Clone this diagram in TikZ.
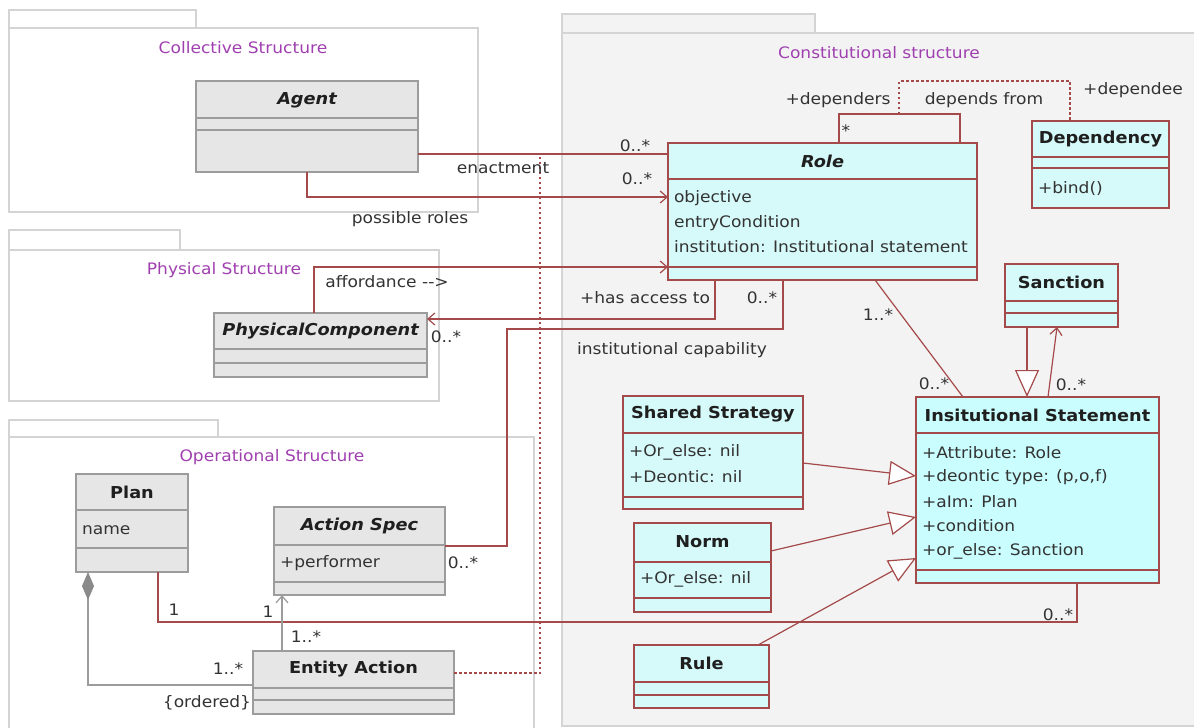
\documentclass[tikz,border=0pt]{standalone}
\usepackage{fontspec}
\setmainfont{DejaVu Sans}[FakeStretch=1.08]
\usetikzlibrary{arrows.meta,calc}
\definecolor{pkgline}{HTML}{D4D4D4}
\definecolor{pkgfill}{HTML}{F3F3F3}
\definecolor{ttl}{HTML}{A040B0}
\definecolor{grayline}{HTML}{9C9C9C}
\definecolor{diafill}{HTML}{8A8A8A}
\definecolor{grayfill}{HTML}{E6E6E6}
\definecolor{redline}{HTML}{A44A4A}
\definecolor{cyanfill}{HTML}{D6F9F9}
\definecolor{cyanfilltwo}{HTML}{CAFDFD}
\definecolor{txt}{HTML}{333333}
\newcommand\compline[3]{\draw[draw=#3, line width=1.3pt] (#1.west |- 0,#2) -- (#1.east |- 0,#2);}
\begin{document}
\begin{tikzpicture}[x=1pt,y=-1pt,
  every node/.style={inner sep=0pt, outer sep=0pt, text=txt, font=\fontsize{15.8}{19}\selectfont},
  pkg/.style={draw=pkgline, line width=1.2pt},
  ptitle/.style={text=ttl},
  gcls/.style={draw=grayline, fill=grayfill, line width=1.3pt, anchor=north west},
  ccls/.style={draw=redline, fill=cyanfill, line width=1.3pt, anchor=north west},
  hdr/.style={font=\fontsize{16.4}{19}\selectfont\bfseries, text=black!88},
  ihdr/.style={font=\fontsize{16.4}{19}\selectfont\bfseries\itshape, text=black!88},
  attr/.style={anchor=west},
  conn/.style={draw=redline, line width=1.2pt},
  gconn/.style={draw=grayline, line width=1.2pt},
  dotconn/.style={draw=redline, line width=1.2pt, dash pattern=on 2.5pt off 2.5pt},
  barb/.style={-{Straight Barb[length=7pt,width=12pt]}},
  gen/.style={-{Triangle[length=27pt,width=24pt,fill=white]}},
]
\useasboundingbox (0,0) rectangle (1194,728);
\clip (0,0) rectangle (1194,728);
\fill[white] (0,0) rectangle (1194,728);

% ---------- packages ----------
\draw[pkg, fill=white] (9,10) rectangle (196,28);
\draw[pkg, fill=white] (9,28) rectangle (478,212);
\node[ptitle] (tcol) at (243,48) {Collective Structure};

\draw[pkg, fill=white] (9,230) rectangle (180,250);
\draw[pkg, fill=white] (9,250) rectangle (439,401);
\node[ptitle] (tphy) at (224,270) {Physical Structure};

\draw[pkg, fill=white] (9,420) rectangle (218,437);
\draw[pkg, fill=white] (9,437) rectangle (534,745);
\node[ptitle] (tope) at (272,457) {Operational Structure};

\draw[pkg, fill=pkgfill] (562,14) rectangle (815,33);
\draw[pkg, fill=pkgfill] (562,33) rectangle (1210,726);
\node[ptitle] (tcon) at (879,53) {Constitutional structure};

% ---------- classes ----------
% Agent
\node[gcls, minimum width=222pt, minimum height=91pt] (agent) at (196,81) {};
\compline{agent}{118}{grayline}\compline{agent}{130}{grayline}
\node[ihdr] (agentT) at (307,100) {Agent};

% PhysicalComponent
\node[gcls, minimum width=213pt, minimum height=64pt] (pc) at (214,313) {};
\compline{pc}{349}{grayline}\compline{pc}{363}{grayline}
\node[ihdr] (pcT) at (320.5,331) {PhysicalComponent};

% Plan
\node[gcls, minimum width=112pt, minimum height=98pt] (plan) at (76,474) {};
\compline{plan}{510}{grayline}\compline{plan}{548}{grayline}
\node[hdr] (planT) at (132,492) {Plan};
\node[attr] (planA) at (82,530) {name};

% Action Spec
\node[gcls, minimum width=171pt, minimum height=88pt] (as) at (274,507) {};
\compline{as}{545}{grayline}\compline{as}{582}{grayline}
\node[ihdr] (asT) at (359.5,526) {Action Spec};
\node[attr] (asA) at (280,563) {+performer};

% Entity Action
\node[gcls, minimum width=201pt, minimum height=63pt] (ea) at (253,651) {};
\compline{ea}{688}{grayline}\compline{ea}{700}{grayline}
\node[hdr] (eaT) at (353.5,669) {Entity Action};

% Role
\node[ccls, minimum width=309pt, minimum height=137pt] (role) at (668,143) {};
\compline{role}{179}{redline}\compline{role}{267}{redline}
\node[ihdr] (roleT) at (822.5,161) {Role};
\node[attr] (roleA1) at (674,198) {objective};
\node[attr] (roleA2) at (674,223) {entryCondition};
\node[attr] (roleA3) at (674,247) {institution: Institutional statement};

% Dependency
\node[ccls, minimum width=137pt, minimum height=87pt] (dep) at (1032,121) {};
\compline{dep}{157}{redline}\compline{dep}{168}{redline}
\node[hdr] (depT) at (1100.5,139) {Dependency};
\node[attr] (depA) at (1038,189) {+bind()};

% Sanction
\node[ccls, minimum width=113pt, minimum height=63pt] (sanc) at (1005,264) {};
\compline{sanc}{301}{redline}\compline{sanc}{313}{redline}
\node[hdr] (sancT) at (1061.5,282) {Sanction};

% Institutional Statement
\node[ccls, fill=cyanfilltwo, minimum width=243pt, minimum height=186pt] (is) at (916,397) {};
\compline{is}{433}{redline}\compline{is}{570}{redline}
\node[hdr] (isT) at (1037.5,415) {Insitutional Statement};
\node[attr] (isA1) at (922,453) {+Attribute: Role};
\node[attr] (isA2) at (922,477) {+deontic type: (p,o,f)};
\node[attr] (isA3) at (922,502) {+aIm: Plan};
\node[attr] (isA4) at (922,526) {+condition};
\node[attr] (isA5) at (922,551) {+or\_else: Sanction};

% Shared Strategy
\node[ccls, minimum width=180pt, minimum height=113pt] (ss) at (623,396) {};
\compline{ss}{433}{redline}\compline{ss}{497}{redline}
\node[hdr] (ssT) at (713,414) {Shared Strategy};
\node[attr] (ssA1) at (629,452) {+Or\_else: nil};
\node[attr] (ssA2) at (629,477) {+Deontic: nil};

% Norm
\node[ccls, minimum width=137pt, minimum height=89pt] (norm) at (634,523) {};
\compline{norm}{562}{redline}\compline{norm}{598}{redline}
\node[hdr] (normT) at (702.5,542) {Norm};
\node[attr] (normA) at (640,579) {+Or\_else: nil};

% Rule
\node[ccls, minimum width=135pt, minimum height=63pt] (rule) at (634,645) {};
\compline{rule}{682}{redline}\compline{rule}{695}{redline}
\node[hdr] (ruleT) at (701.5,663) {Rule};

% ---------- connectors ----------
\coordinate (acpt) at (540,154);
\coordinate (icap) at (507,329);
\coordinate (dl) at ($(role.north west)+(231,-29)$);

% enactment
\draw[conn] ($(agent.north east)+(0,73)$) -- ($(role.north west)+(0,11)$);
% possible roles
\draw[conn, barb] (agent.south) |- ($(role.north west)+(0,54)$);
% affordance
\draw[conn, barb] ($(pc.north west)+(100,0)$) |- ($(role.north west)+(0,124)$);
% has access to
\draw[conn, barb] ($(role.south west)+(47,0)$) |- ($(pc.north east)+(0,6)$);
% institutional capability
\draw[conn] ($(role.south west)+(115,0)$) |- (icap) |- ($(as.north east)+(0,39)$);
% self association depends from
\draw[conn] ($(role.north west)+(171,0)$) -- ++(0,-29) -- ++(121,0) -- ($(role.north west)+(292,0)$);
% association class Dependency
\draw[dotconn] (dl) -- ++(0,-33) -| ($(dep.north west)+(38,0)$);
% Role - Institutional statement
\draw[conn] ($(role.south west)+(207,0)$) -- ($(is.north west)+(47,0)$);
% Sanction generalization
\draw[conn, gen] ($(sanc.south west)+(22,0)$) -- ($(is.north west)+(111,0)$);
% IS -> Sanction
\draw[conn, barb] ($(is.north west)+(132,0)$) -- ($(sanc.south west)+(52,0)$);
% generalizations
\draw[conn, gen] ($(ss.north east)+(0,67)$) -- ($(is.north west)+(0,79)$);
\draw[conn, gen] ($(norm.north east)+(0,28)$) -- ($(is.north west)+(0,120)$);
\draw[conn, gen] ($(rule.north west)+(124,0)$) -- ($(is.north west)+(0,161)$);
% Plan - IS
\draw[conn] ($(plan.south west)+(82,0)$) -- ++(0,50) -| ($(is.south west)+(161,0)$);
% composition Plan - Entity Action
\draw[gconn, {Diamond[length=28pt,width=12pt,fill=diafill,color=diafill]}-] ($(plan.south west)+(12,0)$) |- ($(ea.north west)+(0,34)$);
% Entity Action -> Action Spec
\draw[gconn, barb] ($(ea.north west)+(29,0)$) -- ($(as.south west)+(8,0)$);
% association class link Entity Action
\draw[dotconn] ($(ea.north east)+(0,22)$) -| (acpt);

% ---------- labels ----------
\node (lenact) at (503,168) {enactment};
\node (m1) at (635,146) {0..*};
\node (m2) at (637,179) {0..*};
\node (lposs) at (410,219) {possible roles};
\node (ldeps) at (838,100) {+dependers};
\node (ldepf) at (984,100) {depends from};
\node (ldepe) at (1133,90) {+dependee};
\node (mstar) at (846,131) {*};
\node (laff) at (387,282) {affordance {-}{-}>};
\node (lacc) at (645,298) {+has access to};
\node (m3) at (762,298) {0..*};
\node (m4) at (446,337) {0..*};
\node (lcap) at (672,350) {institutional capability};
\node (m5) at (878,315) {1..*};
\node (m6) at (934,384) {0..*};
\node (m7) at (1071,385) {0..*};
\node (m8) at (463,563) {0..*};
\node (m9) at (174,610) {1};
\node (m10) at (268,612) {1};
\node (m11) at (306,637) {1..*};
\node (m12) at (228,669) {1..*};
\node (lord) at (207,703) {\{ordered\}};
\node (m13) at (1058,615) {0..*};
\end{tikzpicture}
\end{document}
